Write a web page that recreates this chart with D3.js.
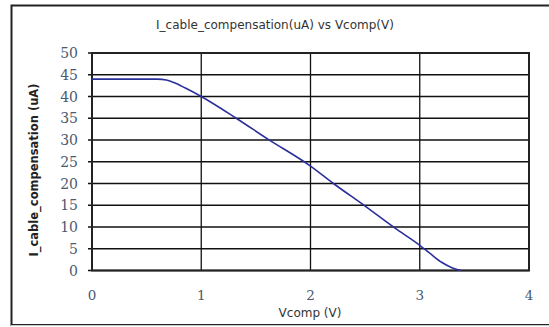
<!DOCTYPE html>
<html><head><meta charset="utf-8">
<script src="https://cdn.jsdelivr.net/npm/d3@7"></script>
<style>body{margin:0;background:#fff}svg{display:block}</style>
</head><body>
<svg id="c" width="549" height="327"></svg>
<script>
const vcomp = [0, 0.3, 0.6, 0.68, 0.75, 0.85, 1.0, 1.32, 1.61, 2.0, 2.21, 2.5, 2.77, 3.0, 3.1, 3.2, 3.3, 3.38];
const icomp = [44, 44, 44, 43.8, 43.2, 42, 40, 35, 30.2, 24, 20, 14.8, 9.8, 5.8, 3.8, 1.9, 0.6, 0];
const xTicks = [0, 1, 2, 3, 4];
const yTicks = [0, 5, 10, 15, 20, 25, 30, 35, 40, 45, 50];
const title = "I_cable_compensation(uA) vs Vcomp(V)";
const xLabel = "Vcomp (V)";
const yLabel = "I_cable_compensation (uA)";

const svg = d3.select("#c");
// outer frame
svg.append("rect").attr("x", 11.5).attr("y", 5.5).attr("width", 560).attr("height", 319.5)
  .attr("fill", "#fff").attr("stroke", "#222").attr("stroke-width", 2);
svg.append("line").attr("x1", 11).attr("x2", 549).attr("y1", 325.5).attr("y2", 325.5)
  .attr("stroke", "#ccc").attr("stroke-width", 1);

const x = d3.scaleLinear().domain([0, 4]).range([92, 529]);
const y = d3.scaleLinear().domain([0, 50]).range([270.5, 53]);

// grid
const g = svg.append("g");
g.selectAll("line.h").data(yTicks).join("line")
  .attr("x1", x(0) - 4).attr("x2", x(4)).attr("y1", d => y(d)).attr("y2", d => y(d))
  .attr("stroke", "#111").attr("stroke-width", 1.3);
g.selectAll("line.v").data(xTicks).join("line")
  .attr("x1", d => x(d)).attr("x2", d => x(d)).attr("y1", y(0)).attr("y2", y(50))
  .attr("stroke", "#111").attr("stroke-width", 1.3);
g.append("rect").attr("x", x(0)).attr("y", y(50)).attr("width", x(4) - x(0)).attr("height", y(0) - y(50))
  .attr("fill", "none").attr("stroke", "#222").attr("stroke-width", 2);

// y tick labels
svg.selectAll("text.yt").data(yTicks).join("text")
  .attr("x", 78).attr("y", d => y(d)).attr("dy", "0.36em").attr("text-anchor", "end")
  .attr("font-family", "DejaVu Serif").attr("font-size", 14).attr("fill", "#4a5a70")
  .text(d => d);
// x tick labels
svg.selectAll("text.xt").data(xTicks).join("text")
  .attr("x", d => x(d)).attr("y", 295).attr("dy", "0.36em").attr("text-anchor", "middle")
  .attr("font-family", "DejaVu Serif").attr("font-size", 13.5).attr("fill", "#4a5a70")
  .text(d => d);

// line
const line = d3.line().x((d, i) => x(vcomp[i])).y(d => y(d)).curve(d3.curveMonotoneX);
svg.append("path").attr("d", line(icomp)).attr("fill", "none")
  .attr("stroke", "#2b2f9a").attr("stroke-width", 1.6);

// title & labels
svg.append("text").attr("x", 275).attr("y", 29).attr("text-anchor", "middle")
  .attr("font-family", "DejaVu Sans").attr("font-size", 12).attr("fill", "#333").text(title);
svg.append("text").attr("x", 310).attr("y", 317).attr("text-anchor", "middle")
  .attr("font-family", "DejaVu Sans").attr("font-size", 12).attr("fill", "#333").text(xLabel);
svg.append("text").attr("transform", "translate(38,170) rotate(-90)").attr("text-anchor", "middle")
  .attr("font-family", "DejaVu Sans").attr("font-weight", "bold").attr("font-size", 11.5)
  .attr("fill", "#222").text(yLabel);
</script>
</body></html>
